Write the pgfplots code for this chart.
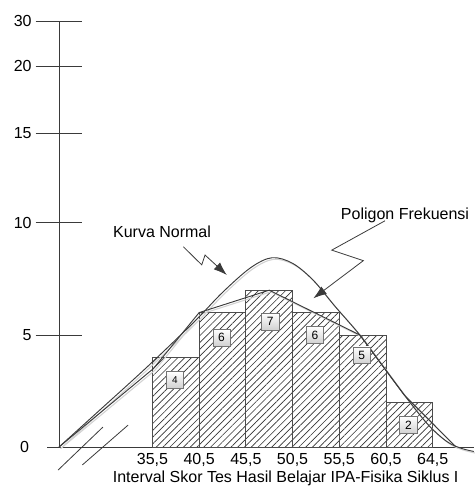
\documentclass[border=0pt]{standalone}
\usepackage{fontspec}
\setmainfont{Liberation Sans}
\usepackage{pgfplots}
\pgfplotsset{compat=1.18}
\usetikzlibrary{patterns.meta,arrows.meta}
\definecolor{ln}{HTML}{3A3A3A}
\begin{document}
\begin{tikzpicture}
\begin{axis}[
  scale only axis, width=320.25pt, height=319.5pt,
  xmin=-1.285, xmax=44.43, ymin=0, ymax=19.02,
  x filter/.code={\pgfmathparse{#1-25.5}},
  axis lines=middle,
  axis line style={-, draw=ln, line width=0.75pt},
  xtick={10,15,20,25,30,35,40},
  xticklabels={{35,5},{40,5},{45,5},{50,5},{55,5},{60,5},{64,5}},
  xtick style={draw=none},
  ytick={0,5,10,14,17,19}, yticklabels={0,5,10,15,20,30},
  ytick style={draw=ln, line width=0.75pt},
  tick align=center, major tick length=35pt,
  tick label style={font=\fontsize{12}{14}\selectfont},
  yticklabel style={anchor=east, xshift=0.5pt},
  xticklabel style={anchor=north, yshift=16pt},
  clip=false,
]
% histogram bars
\addplot[ybar interval, draw=black!70, line width=0.7pt,
  pattern={Lines[angle=45,distance=3.6pt,line width=0.5pt]}, pattern color=black!80]
  coordinates {(35.5,4) (40.5,6) (45.5,7) (50.5,6) (55.5,5) (60.5,2) (65.5,2)};
% shadows
\addplot[gray!35, line width=0.8pt, smooth, tension=0.55, xshift=1.2pt, yshift=-1.2pt] coordinates {
  (25.5,0) (30,1.7) (35,3.6) (40,5.6) (43,6.9) (46,8.0) (48.3,8.45) (50.5,8.2)
  (52.7,7.45) (55,6.3) (57.7,5.0) (60,3.7) (62.5,2.3) (65,1.0) (67,0.25) (68.5,-0.05) (69.9,-0.2)};
\addplot[gray!35, line width=0.8pt, xshift=1.2pt, yshift=-1.2pt] coordinates {
  (25.5,0) (35.6,3.5) (40.5,6) (48,7) (57.7,5) (62.5,2.3) (68,0)};
% normal curve
\addplot[ln, line width=0.7pt, smooth, tension=0.55] coordinates {
  (25.5,0) (30,1.7) (35,3.6) (40,5.6) (43,6.9) (46,8.0) (48.3,8.45) (50.5,8.2)
  (52.7,7.45) (55,6.3) (57.7,5.0) (60,3.7) (62.5,2.3) (65,1.0) (67,0.25) (68.5,-0.05) (69.9,-0.2)};
% frequency polygon
\addplot[ln, line width=0.7pt] coordinates {
  (25.5,0) (35.6,3.5) (40.5,6) (48,7) (57.7,5) (62.5,2.3) (68,0)};
% axis break marks
\addplot[ln, line width=0.6pt] coordinates {(25.4,-1.03) (30.2,0.89)};
\addplot[ln, line width=0.6pt] coordinates {(28.0,-0.80) (32.9,0.98)};
% origin label (hidden by middle axis lines)
\node[anchor=east, font=\fontsize{12}{14}\selectfont, xshift=-19pt] at (axis cs:0,0) {0};
% frequency boxes
\tikzset{fbox/.style={draw=black!55, top color=white, bottom color=black!18,
  minimum width=13pt, minimum height=12.5pt, inner sep=0pt, font=\fontsize{9}{10}\selectfont}}
\node[fbox] at (axis cs:12.4,3.0) {\fontsize{7.5}{8}\selectfont 4};
\node[fbox] at (axis cs:17.4,4.88) {6};
\node[fbox] at (axis cs:22.6,5.6) {7};
\node[fbox] at (axis cs:27.4,5.0) {6};
\node[fbox] at (axis cs:32.4,4.1) {5};
\node[fbox] at (axis cs:37.4,0.98) {2};
% callouts
\node[font=\fontsize{12}{14}\selectfont] at (axis cs:11.03,9.6) {Kurva Normal};
\node[font=\fontsize{12}{14}\selectfont] at (axis cs:37.04,10.36) {Poligon Frekuensi};
\draw[-{Latex[length=10pt,width=7pt]}, ln, line width=0.6pt]
  (axis cs:13.31,8.94) -- (axis cs:15.28,8.13) -- (axis cs:15.63,8.57) -- (axis cs:17.96,7.68);
\draw[-{Latex[length=10pt,width=7pt]}, ln, line width=0.6pt]
  (axis cs:34.90,10.10) -- (axis cs:29.20,8.79) -- (axis cs:32.58,8.32) -- (axis cs:27.23,6.64);
% x label
\node[font=\fontsize{12}{14}\selectfont] at (axis cs:24.26,-1.38) {Interval Skor Tes Hasil Belajar IPA-Fisika Siklus I};
\coordinate (bbl) at (axis cs:-6.317,-1.830);
\coordinate (btr) at (axis cs:44.43,19.955);
\end{axis}
\pgfresetboundingbox
\useasboundingbox (bbl) rectangle (btr);
\end{tikzpicture}
\end{document}
